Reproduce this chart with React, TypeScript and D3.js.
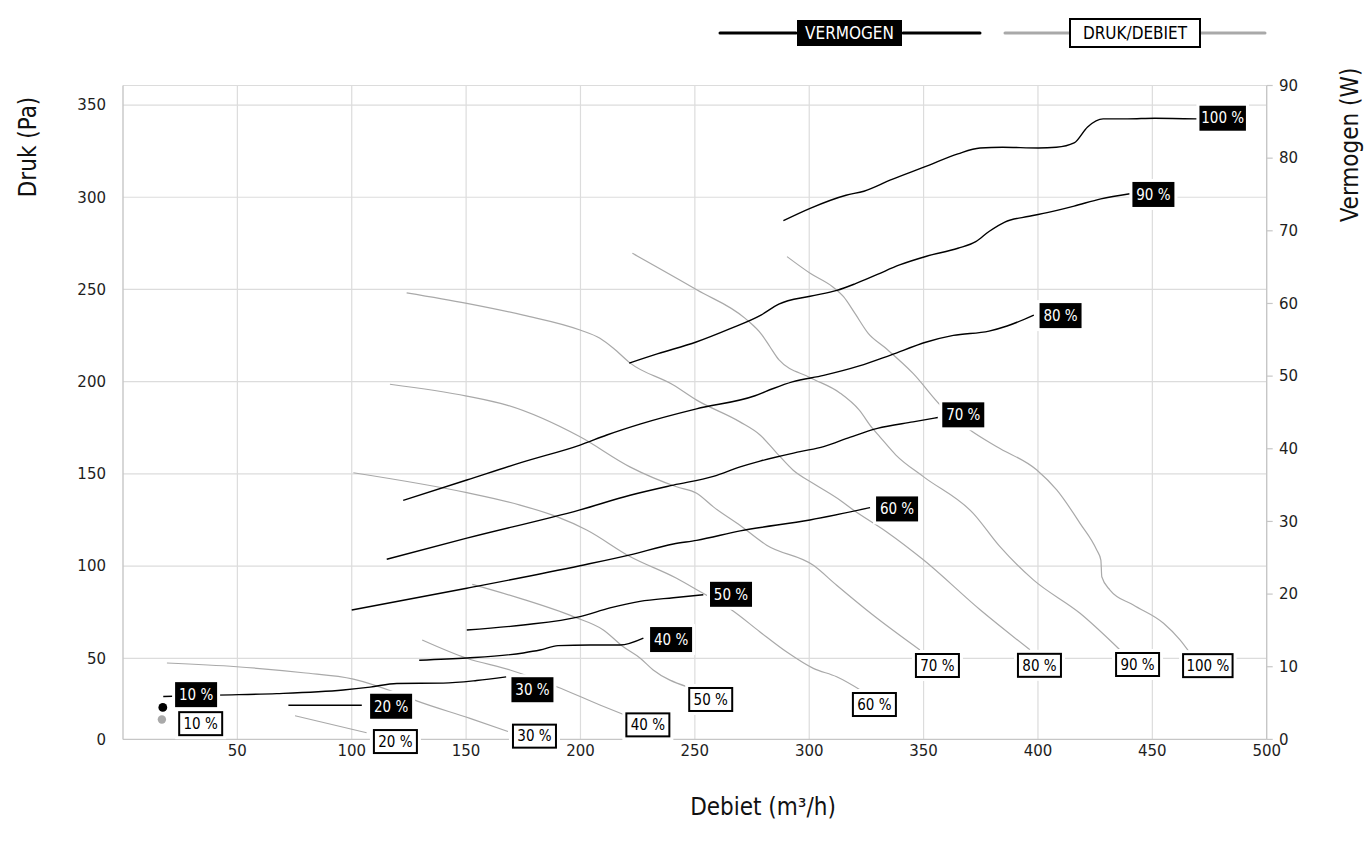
import React from "react";
import * as d3 from "d3";

// ---------- data ----------
const flowTicks = [50, 100, 150, 200, 250, 300, 350, 400, 450, 500];
const pressureTicks = [0, 50, 100, 150, 200, 250, 300, 350];
const powerTicks = [0, 10, 20, 30, 40, 50, 60, 70, 80, 90];
const speedNames = ["10 %", "20 %", "30 %", "40 %", "50 %", "60 %", "70 %", "80 %", "90 %", "100 %"];

// Vermogen (W) per speed: [debiet m3/h, vermogen W]
const vermogen10: [number, number][] = [[17.4, 4.4]];
const vermogen20: [number, number][] = [[72.3, 4.7], [88.0, 4.7], [104.4, 4.7]];
const vermogen30: [number, number][] = [[17.6, 5.9], [41.0, 6.1], [67.2, 6.3], [96.3, 6.8], [108.0, 7.2], [119.7, 7.7], [140.0, 7.75], [154.6, 8.1], [167.5, 8.6]];
const vermogen40: [number, number][] = [[129.5, 10.9], [150.3, 11.2], [175.0, 11.9], [182.3, 12.3], [190.2, 12.9], [204.2, 13.0], [217.3, 13.0], [227.5, 13.95]];
const vermogen50: [number, number][] = [[150.3, 15.05], [175.0, 15.75], [199.8, 16.9], [212.9, 18.1], [226.0, 19.0], [240.6, 19.5], [253.7, 19.9]];
const vermogen60: [number, number][] = [[100.0, 17.8], [150.3, 20.8], [199.8, 23.9], [221.7, 25.4], [240.6, 26.9], [250.8, 27.4], [269.8, 28.7], [300.3, 30.2], [326.6, 31.9]];
const vermogen70: [number, number][] = [[115.3, 24.8], [150.3, 27.7], [199.8, 31.6], [221.7, 33.6], [240.6, 35.0], [258.1, 36.2], [269.8, 37.5], [278.5, 38.3], [296.0, 39.6], [306.3, 40.3], [318.0, 41.6], [329.8, 42.8], [345.4, 43.7], [356.2, 44.3]];
const vermogen80: [number, number][] = [[122.5, 32.9], [150.3, 35.7], [175.0, 38.2], [199.8, 40.5], [211.5, 41.9], [226.0, 43.4], [250.7, 45.5], [276.3, 47.3], [284.3, 48.3], [292.6, 49.2], [306.3, 50.1], [321.9, 51.4], [335.6, 52.9], [351.3, 54.7], [363.0, 55.6], [378.6, 56.2], [386.5, 56.9], [398.2, 58.4]];
const vermogen90: [number, number][] = [[221.3, 51.8], [233.9, 53.1], [250.6, 54.7], [265.2, 56.5], [278.9, 58.4], [286.7, 59.9], [300.4, 61.0], [312.1, 61.8], [320.0, 62.7], [329.8, 64.0], [339.5, 65.3], [351.3, 66.5], [365.0, 67.6], [372.8, 68.5], [378.6, 69.9], [385.5, 71.2], [396.2, 72.0], [404.0, 72.5], [415.8, 73.4], [427.5, 74.4], [440.2, 75.1]];
const vermogen100: [number, number][] = [[288.7, 71.4], [300.4, 73.1], [316.1, 74.9], [323.9, 75.45], [335.6, 77.0], [351.3, 78.9], [365.0, 80.6], [374.7, 81.4], [384.5, 81.5], [400.2, 81.4], [408.0, 81.5], [415.8, 82.1], [421.7, 84.3], [428.5, 85.4], [439.2, 85.4], [451.0, 85.5], [469.5, 85.4]];

// Druk (Pa) per speed: [debiet m3/h, druk Pa]
const druk10: [number, number][] = [[17.0, 12.3]];
const druk20: [number, number][] = [[75.2, 14.6], [106.5, 4.1]];
const druk30: [number, number][] = [[19.2, 47.1], [49.7, 44.8], [78.8, 41.1], [100.7, 37.2], [118.2, 29.4], [128.1, 23.9], [151.7, 13.0], [168.3, 4.9]];
const druk40: [number, number][] = [[130.8, 59.9], [150.3, 50.0], [169.2, 42.8], [189.6, 32.5], [208.5, 21.2], [219.4, 15.0]];
const druk50: [number, number][] = [[152.7, 90.1], [173.6, 82.5], [196.9, 72.6], [210.0, 65.4], [218.7, 56.3], [226.0, 50.2], [231.8, 42.8], [246.4, 32.5]];
const druk60: [number, number][] = [[100.7, 150.6], [150.3, 139.8], [173.6, 133.1], [189.6, 126.8], [202.7, 119.6], [221.6, 105.2], [242.0, 93.4], [252.2, 86.2], [266.1, 76.2], [278.5, 64.3], [290.2, 53.4], [301.8, 43.8], [312.0, 38.6], [323.6, 29.4]];
const druk70: [number, number][] = [[116.7, 198.6], [150.3, 192.2], [167.8, 187.3], [199.8, 170.1], [221.6, 153.8], [242.0, 143.0], [250.8, 139.5], [258.1, 132.1], [269.7, 122.1], [281.4, 111.3], [301.8, 100.4], [312.0, 89.6], [328.0, 73.3], [348.4, 54.5]];
const druk80: [number, number][] = [[124.0, 248.2], [150.3, 242.5], [175.0, 236.1], [199.8, 228.0], [208.5, 223.5], [214.4, 218.1], [221.6, 210.2], [240.6, 198.2], [250.8, 190.0], [269.7, 178.2], [278.5, 171.1], [285.8, 161.3], [293.0, 152.0], [301.8, 144.8], [313.5, 135.7], [319.3, 130.4], [333.9, 118.5], [349.9, 103.4], [374.7, 76.3], [396.5, 54.6]];
const druk90: [number, number][] = [[222.7, 269.6], [251.0, 249.7], [272.0, 234.3], [279.4, 225.3], [282.9, 218.8], [286.8, 211.8], [300.3, 202.3], [313.4, 193.9], [321.8, 184.7], [327.5, 174.9], [330.8, 170.2], [337.9, 160.2], [349.9, 148.5], [371.7, 128.6], [383.4, 110.5], [398.0, 92.5], [418.4, 74.4], [435.9, 54.5]];
const druk100: [number, number][] = [[290.3, 267.8], [300.4, 258.8], [310.2, 251.5], [315.0, 246.1], [320.0, 237.0], [325.8, 226.2], [333.1, 218.5], [345.4, 204.5], [358.0, 186.4], [370.3, 173.8], [382.0, 164.7], [399.5, 152.1], [408.2, 141.3], [418.4, 123.2], [425.7, 108.7], [427.5, 103.3], [427.9, 94.2], [431.5, 87.0], [441.7, 78.9], [454.9, 69.0], [462.1, 60.0], [466.5, 52.8]];

const vermogenSeries = [vermogen10, vermogen20, vermogen30, vermogen40, vermogen50, vermogen60, vermogen70, vermogen80, vermogen90, vermogen100];
const drukSeries = [druk10, druk20, druk30, druk40, druk50, druk60, druk70, druk80, druk90, druk100];

// ---------- layout ----------
const W = 1364, H = 847;
const plot = { left: 123, right: 1266.7, top: 85.5, bottom: 739.4, pa50: 658.3 };
// label offsets (px) relative to last point of each curve
const vermogenLabelOffset: [number, number][] = [[12.3, -12.8], [8.3, 1], [5.3, 12.8], [6.7, 1.5], [6.7, -0.5], [6, 1.3], [4.5, -2.7], [5.7, 0.5], [2.5, 0.7], [2.5, -0.7]];
const drukLabelOffset: [number, number][] = [[16.3, -8.3], [6.3, -3.7], [4, -7.8], [0.5, -2.7], [1.6, 0.3], [-11.3, 0.3], [-5, 3], [-13, 3], [-5, 2], [-8, 0]];

const COND = "'Liberation Sans Narrow', 'DejaVu Sans Condensed', 'Roboto Condensed', Roboto, sans-serif";
const TICKFONT = "'DejaVu Sans', Verdana, sans-serif";
const GRID = "#dcdcdc";
const AXIS = "#c6c6c6";
const GRAY = "#a9a9a9";

export default function App() {
  const x = d3.scaleLinear().domain([0, 500]).range([plot.left, plot.right]);
  const yP = d3.scaleLinear().domain([0, 50, 360.6]).range([plot.bottom, plot.pa50, plot.top]);
  const yW = d3.scaleLinear().domain([0, 90]).range([plot.bottom, plot.top]);

  const lineW = d3.line<[number, number]>().x((d) => x(d[0])).y((d) => yW(d[1])).curve(d3.curveMonotoneX);
  const lineP = d3.line<[number, number]>().x((d) => x(d[0])).y((d) => yP(d[1])).curve(d3.curveMonotoneX);

  const blackW = (i: number) => (i === 9 ? 46.5 : 42);
  const whiteW = (i: number) => (i === 9 ? 51.5 : 45);

  return (
    <svg width={W} height={H} style={{ position: "absolute", left: 0, top: 0, background: "#fff" }}>
      {/* grid */}
      <g>
        {flowTicks.filter((t) => t < 500).map((t) => (
          <line key={"vx" + t} x1={x(t)} x2={x(t)} y1={plot.top} y2={plot.bottom} stroke={GRID} strokeWidth={1.2} />
        ))}
        {pressureTicks.filter((t) => t > 0).map((t) => (
          <line key={"hy" + t} x1={plot.left} x2={plot.right} y1={yP(t)} y2={yP(t)} stroke={GRID} strokeWidth={1.2} />
        ))}
        <line x1={plot.left} x2={plot.right} y1={plot.top} y2={plot.top} stroke={GRID} strokeWidth={1.2} />
        <line x1={plot.left} x2={plot.right} y1={plot.bottom} y2={plot.bottom} stroke={AXIS} strokeWidth={1.4} />
        <line x1={plot.left} x2={plot.left} y1={plot.top} y2={plot.bottom} stroke={AXIS} strokeWidth={1.4} />
        <line x1={plot.right} x2={plot.right} y1={plot.top} y2={plot.bottom} stroke={AXIS} strokeWidth={1.4} />
        {powerTicks.map((t) => (
          <line key={"rt" + t} x1={plot.right} x2={plot.right + 6} y1={yW(t)} y2={yW(t)} stroke={AXIS} strokeWidth={1.2} />
        ))}
      </g>

      {/* tick labels */}
      <g fontFamily={TICKFONT} fontSize={15} fill="#1e1e1e">
        {pressureTicks.map((t) => (
          <text key={"pl" + t} x={106} y={yP(t)} dy="0.35em" textAnchor="end">{t}</text>
        ))}
        {powerTicks.map((t) => (
          <text key={"wl" + t} x={1279} y={yW(t)} dy="0.35em" textAnchor="start">{t}</text>
        ))}
        {flowTicks.map((t) => (
          <text key={"fl" + t} x={x(t)} y={756} textAnchor="middle">{t}</text>
        ))}
      </g>

      {/* axis titles */}
      <g fontFamily={COND} fill="#111" fontSize={24}>
        <text transform="translate(36,147) rotate(-90)" textAnchor="middle">Druk (Pa)</text>
        <text transform="translate(1358,145) rotate(-90)" textAnchor="middle">Vermogen (W)</text>
        <text x={763} y={815} textAnchor="middle">Debiet (m³/h)</text>
      </g>

      {/* curves */}
      <g fill="none" stroke={GRAY} strokeWidth={1.2}>
        {drukSeries.filter((s) => s.length > 1).map((s, i) => (
          <path key={"p" + i} d={lineP(s) || ""} />
        ))}
      </g>
      <g fill="none" stroke="#000" strokeWidth={1.4}>
        {vermogenSeries.filter((s) => s.length > 1).map((s, i) => (
          <path key={"w" + i} d={lineW(s) || ""} />
        ))}
      </g>
      <circle cx={x(vermogen10[0][0])} cy={yW(vermogen10[0][1])} r={4.4} fill="#000" />
      <circle cx={x(druk10[0][0])} cy={yP(druk10[0][1])} r={4.2} fill={GRAY} />

      {/* druk labels */}
      <g fontFamily={COND} fontSize={15}>
        {drukSeries.map((s, i) => {
          const last = s[s.length - 1];
          const bx = x(last[0]) + drukLabelOffset[i][0];
          const by = yP(last[1]) + drukLabelOffset[i][1];
          const w = whiteW(i);
          return (
            <g key={"dl" + i}>
              <rect x={bx - 3} y={by - 3} width={w + 6} height={31} fill="#fff" />
              <rect x={bx + 1} y={by + 1} width={w - 2} height={23} fill="#fff" stroke="#000" strokeWidth={2} />
              <text x={bx + w / 2} y={by + 12.5} dy="0.35em" textAnchor="middle" fill="#000">{speedNames[i]}</text>
            </g>
          );
        })}
      </g>

      {/* vermogen labels */}
      <g fontFamily={COND} fontSize={15}>
        {vermogenSeries.map((s, i) => {
          const last = s[s.length - 1];
          const bx = x(last[0]) + vermogenLabelOffset[i][0];
          const cy = yW(last[1]) + vermogenLabelOffset[i][1];
          const w = blackW(i);
          return (
            <g key={"vl" + i}>
              <rect x={bx - 3} y={cy - 15.5} width={w + 6} height={31} fill="#fff" />
              <rect x={bx} y={cy - 12.5} width={w} height={25} fill="#000" />
              <text x={bx + w / 2} y={cy} dy="0.35em" textAnchor="middle" fill="#fff">{speedNames[i]}</text>
            </g>
          );
        })}
      </g>

      {/* legend */}
      <g fontFamily={COND} fontSize={17}>
        <line x1={720} x2={796} y1={33} y2={33} stroke="#000" strokeWidth={3} strokeLinecap="round" />
        <line x1={903} x2={980} y1={33} y2={33} stroke="#000" strokeWidth={3} strokeLinecap="round" />
        <rect x={797} y={20} width={105} height={26} fill="#000" />
        <text x={849.5} y={33} dy="0.35em" textAnchor="middle" fill="#fff">VERMOGEN</text>
        <line x1={1005} x2={1069} y1={33} y2={33} stroke={GRAY} strokeWidth={3} strokeLinecap="round" />
        <line x1={1201} x2={1265} y1={33} y2={33} stroke={GRAY} strokeWidth={3} strokeLinecap="round" />
        <rect x={1070} y={19} width={130} height={28} fill="#fff" stroke="#000" strokeWidth={2} />
        <text x={1135} y={33} dy="0.35em" textAnchor="middle" fill="#000">DRUK/DEBIET</text>
      </g>
    </svg>
  );
}
